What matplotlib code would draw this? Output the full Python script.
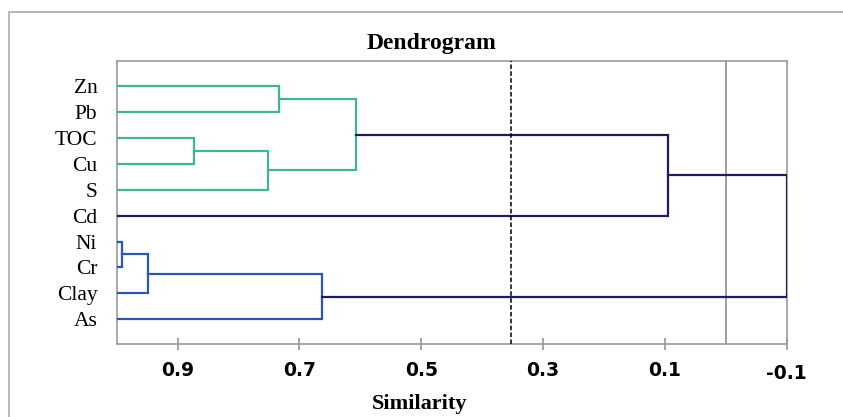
import matplotlib
matplotlib.use("Agg")
import matplotlib.pyplot as plt
from matplotlib.lines import Line2D
from matplotlib.transforms import ScaledTranslation

# ---- data ----
labels = ['Zn', 'Pb', 'TOC', 'Cu', 'S', 'Cd', 'Ni', 'Cr', 'Clay', 'As']
# merges: (child_a, child_b, similarity); new nodes numbered from 10
merge_a = [0, 2, 11, 10, 13, 6, 15, 16, 14]
merge_b = [1, 3, 4, 12, 5, 7, 8, 9, 17]
merge_h = [0.733, 0.873, 0.752, 0.607, 0.095, 0.992, 0.948, 0.663, -0.1]
xticks = [0.9, 0.7, 0.5, 0.3, 0.1, -0.1]
cut_level = 0.352
zero_line = 0.0

# ---- style ----
GREEN = '#3fb595'
BLUE = '#2c55b8'
NAVY = '#1c1c66'
merge_colors = [GREEN, GREEN, GREEN, GREEN, NAVY, BLUE, BLUE, BLUE, NAVY]
serif = ['Liberation Serif', 'DejaVu Serif']

fig = plt.figure(figsize=(8.43, 4.17), dpi=100)
W, H = 843, 417
ax = fig.add_axes([116.7 / W, 1 - 344.3 / H, (786.7 - 116.7) / W, (344.3 - 61) / H])

n = len(labels)
leaf_x = 1.0
pos = {i: (leaf_x, float(i)) for i in range(n)}
for k, (a, b, h) in enumerate(zip(merge_a, merge_b, merge_h)):
    xa, ya = pos[a]
    xb, yb = pos[b]
    c = merge_colors[k]
    ax.plot([xa, h, h, xb], [ya, ya, yb, yb], color=c, lw=1.6,
            solid_joinstyle='miter', zorder=3)
    pos[n + k] = (h, (ya + yb) / 2)

ax.axvline(cut_level, color='black', lw=1.1, ls=(0, (3, 1.5)), zorder=4)
ax.axvline(zero_line, color='#8c8c8c', lw=1.2, zorder=2)

ax.set_xlim(1.0, -0.1)
ax.set_ylim(n - 1 + 0.964, -0.964)
ax.set_yticks(range(n))
ax.set_yticklabels(labels, fontfamily=serif, fontsize=15.5)
ax.tick_params(axis='y', length=0, pad=14)
ax.set_xticks(xticks)
ax.set_xticklabels([f'{v:g}' for v in xticks], fontfamily='DejaVu Sans',
                   fontweight='bold', fontsize=13.5)
ax.tick_params(axis='x', direction='inout', length=9, width=1.1,
               color='#8c8c8c', pad=7.5)
for lab in ax.get_xticklabels():
    if lab.get_text() == '-0.1':
        lab.set_transform(lab.get_transform() +
                          ScaledTranslation(0, -3 / 100, fig.dpi_scale_trans))
for s in ax.spines.values():
    s.set_color('#9a9a9a')
    s.set_linewidth(1.2)

fig.text(431.7 / W, 1 - 44 / H, 'Dendrogram', ha='center', va='center',
         fontfamily=serif, fontweight='bold', fontsize=17)
fig.text(420 / W, 1 - 404 / H, 'Similarity', ha='center', va='center',
         fontfamily=serif, fontweight='bold', fontsize=16)

# outer frame (left and top edges visible)
fig.add_artist(Line2D([9 / W, 9 / W, 1.0], [0.0, 1 - 12 / H, 1 - 12 / H],
                      transform=fig.transFigure, color='#aaaaaa', lw=1.2))

fig.savefig('out.png', dpi=100)
